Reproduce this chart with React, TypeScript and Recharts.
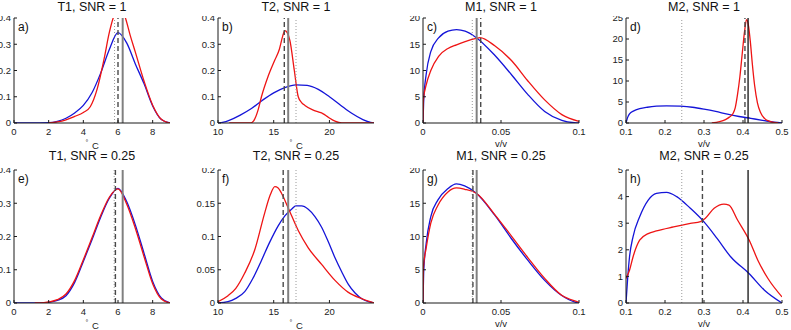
import React from 'react';
import { LineChart, Line, XAxis, YAxis, ReferenceLine } from 'recharts';

// a) T1, SNR = 1
const aBlueX = [0, 1, 2, 2.5, 3, 3.5, 4, 4.5, 5, 5.5, 6, 6.5, 7, 7.5, 8, 8.5, 9];
const aBlueY = [0, 0, 0.001, 0.006, 0.018, 0.038, 0.067, 0.115, 0.19, 0.28, 0.344, 0.305, 0.225, 0.15, 0.065, 0.013, 0];
const aRedX = [2, 2.5, 3, 3.5, 4, 4.4, 4.8, 5.2, 5.5, 5.75, 6.05, 6.4, 6.7, 7, 7.5, 8, 8.5, 8.8, 9];
const aRedY = [0, 0.004, 0.012, 0.025, 0.04, 0.062, 0.13, 0.245, 0.345, 0.405, 0.435, 0.405, 0.335, 0.27, 0.16, 0.068, 0.014, 0.003, 0];

// b) T2, SNR = 1
const bBlueX = [10, 10.5, 11, 12, 13, 14, 15, 16, 17, 18, 19, 20, 21, 22, 23, 23.7, 24];
const bBlueY = [0, 0.003, 0.01, 0.03, 0.055, 0.087, 0.115, 0.135, 0.145, 0.143, 0.128, 0.1, 0.068, 0.037, 0.013, 0.002, 0];
const bRedX = [11, 12.9, 13.2, 13.6, 13.9, 14.5, 15.1, 15.5, 15.8, 16.0, 16.2, 16.45, 16.85, 17.2, 17.5, 17.8, 18.5, 19.0, 19.4, 19.9, 20.5, 21.1, 24];
const bRedY = [0, 0, 0.008, 0.05, 0.1, 0.178, 0.24, 0.28, 0.33, 0.352, 0.345, 0.315, 0.2, 0.1, 0.078, 0.067, 0.05, 0.042, 0.036, 0.022, 0.007, 0, 0];

// c) M1, SNR = 1
const cBlueX = [0, 0.0005, 0.002, 0.005, 0.01, 0.016, 0.0215, 0.027, 0.034, 0.046, 0.057, 0.067, 0.078, 0.089, 0.097, 0.1];
const cBlueY = [0, 4.5, 9.2, 13.6, 16.2, 17.5, 17.8, 17.5, 16.3, 12.9, 9.1, 5.5, 2.2, 0.5, 0.05, 0];
const cRedX = [0, 0.0003, 0.002, 0.005, 0.01, 0.016, 0.0215, 0.027, 0.034, 0.0365, 0.046, 0.057, 0.067, 0.078, 0.089, 0.1];
const cRedY = [0, 4.6, 7.2, 10, 12.7, 14.2, 14.9, 15.5, 16.1, 16.25, 14.7, 11.8, 8.1, 4.4, 1.6, 0.3];

// d) M2, SNR = 1
const dBlueX = [0.1, 0.1045, 0.109, 0.12, 0.135, 0.155, 0.178, 0.204, 0.239, 0.27, 0.3, 0.33, 0.36, 0.39, 0.42, 0.45, 0.48, 0.5];
const dBlueY = [0, 1.4, 2.2, 2.9, 3.4, 3.75, 4.0, 4.1, 4.0, 3.75, 3.3, 2.75, 2.1, 1.55, 1.1, 0.65, 0.18, 0];
const dRedX = [0.32, 0.34, 0.355, 0.365, 0.374, 0.38, 0.386, 0.392, 0.398, 0.404, 0.409, 0.414, 0.419, 0.424, 0.43, 0.437, 0.445, 0.455, 0.47, 0.49];
const dRedY = [0, 0.3, 0.8, 1.4, 2.2, 3.6, 6.8, 11, 16.5, 21.8, 24.6, 23.2, 19.2, 14, 8.8, 4.8, 2.5, 1.1, 0.35, 0];

// e) T1, SNR = 0.25
const eBlueX = [0, 1, 1.5, 2, 2.5, 3, 3.5, 4, 4.5, 5, 5.5, 6, 6.5, 7, 7.5, 8, 8.5, 9];
const eBlueY = [0, 0, 0, 0.002, 0.008, 0.022, 0.062, 0.125, 0.19, 0.258, 0.315, 0.345, 0.305, 0.235, 0.15, 0.065, 0.015, 0];
const eRedX = [1.2, 1.5, 2, 2.5, 3, 3.5, 4, 4.5, 5, 5.5, 6, 6.5, 7, 7.5, 8, 8.5, 9];
const eRedY = [0, 0, 0.003, 0.01, 0.027, 0.068, 0.13, 0.196, 0.263, 0.318, 0.343, 0.298, 0.225, 0.14, 0.058, 0.012, 0];

// f) T2, SNR = 0.25
const fBlueX = [10, 10.9, 11.6, 12.4, 13.1, 13.9, 14.6, 15.4, 16.0, 16.6, 17.0, 17.5, 18.1, 18.7, 19.3, 19.9, 20.5, 21.1, 21.7, 22.3, 22.9, 23.5, 24];
const fBlueY = [0, 0.002, 0.007, 0.017, 0.036, 0.064, 0.09, 0.116, 0.131, 0.141, 0.146, 0.146, 0.141, 0.13, 0.114, 0.092, 0.068, 0.047, 0.028, 0.015, 0.0065, 0.002, 0];
const fRedX = [10, 10.9, 11.6, 12.4, 13.3, 14.2, 14.7, 15.1, 15.4, 15.7, 16.3, 17.2, 18.1, 19.3, 20.5, 21.7, 22.9, 24];
const fRedY = [0.002, 0.011, 0.022, 0.045, 0.08, 0.136, 0.163, 0.175, 0.173, 0.165, 0.143, 0.109, 0.083, 0.058, 0.034, 0.016, 0.0065, 0];

// g) M1, SNR = 0.25
const gBlueX = [0, 0.0005, 0.002, 0.005, 0.0096, 0.016, 0.0214, 0.0267, 0.0342, 0.046, 0.0566, 0.0673, 0.078, 0.0887, 0.0994, 0.1];
const gBlueY = [0, 4.9, 8.9, 13, 15.5, 17.2, 17.9, 17.6, 16.5, 13.2, 9.7, 6.4, 3.4, 1.16, 0.02, 0];
const gRedX = [0, 0.0003, 0.002, 0.005, 0.0096, 0.016, 0.0214, 0.0267, 0.0342, 0.046, 0.0566, 0.0673, 0.078, 0.0887, 0.0994, 0.1];
const gRedY = [0, 5.4, 8.2, 12, 14.7, 16.7, 17.3, 17.1, 16.5, 13.3, 10.1, 6.8, 3.7, 1.2, 0.15, 0.1];

// h) M2, SNR = 0.25
const hBlueX = [0.1, 0.1045, 0.109, 0.118, 0.135, 0.157, 0.178, 0.204, 0.23, 0.265, 0.3, 0.334, 0.369, 0.416, 0.455, 0.5];
const hBlueY = [0, 0.98, 1.73, 2.49, 3.24, 3.87, 4.12, 4.16, 4.0, 3.56, 3.05, 2.42, 1.73, 1.1, 0.48, 0];
const hRedX = [0.1, 0.109, 0.118, 0.135, 0.157, 0.178, 0.222, 0.265, 0.291, 0.303, 0.326, 0.351, 0.364, 0.386, 0.416, 0.438, 0.464, 0.5];
const hRedY = [0.92, 1.23, 1.73, 2.36, 2.61, 2.71, 2.86, 2.99, 3.06, 3.18, 3.56, 3.72, 3.68, 3.12, 2.36, 1.61, 0.92, 0.23];

// vertical markers per panel a..h
const trueVals = [6.27, 16.3, 0.0344, 0.413, 6.27, 16.3, 0.0344, 0.413];
const estVals = [6.0, 15.95, 0.037, 0.405, 5.85, 15.85, 0.032, 0.296];
const priorVals = [5.8, 17.0, 0.0316, 0.243, 5.78, 17.0, 0.0316, 0.243];

const titles = ['T1, SNR = 1', 'T2, SNR = 1', 'M1, SNR = 1', 'M2, SNR = 1', 'T1, SNR = 0.25', 'T2, SNR = 0.25', 'M1, SNR = 0.25', 'M2, SNR = 0.25'];
const letters = ['a)', 'b)', 'c)', 'd)', 'e)', 'f)', 'g)', 'h)'];

const t1Ticks = [0, 2, 4, 6, 8];
const t2Ticks = [10, 15, 20];
const m1Ticks = [0, 0.05, 0.1];
const m2Ticks = [0.1, 0.2, 0.3, 0.4, 0.5];
const dens04 = [0, 0.1, 0.2, 0.3, 0.4];
const dens02 = [0, 0.05, 0.1, 0.15, 0.2];
const dens20 = [0, 5, 10, 15, 20];
const dens25 = [0, 5, 10, 15, 20, 25];
const dens5 = [0, 1, 2, 3, 4, 5];

const pts = (xs: number[], ys: number[]) => xs.map((x, i) => ({ x, y: ys[i] }));

const COLS = [14, 218, 423, 626];
const ROWS = [{ top: 18, h: 105 }, { top: 170, h: 133 }];
const PW = 156;
const PAD_L = 30;
const PAD_R = 12;
const BLUE = '#1414d8';
const RED = '#ee1414';
const FRAME = '#1a1a1a';
const TICK_FONT = 9.5;

const colAxes = [
  { dom: [0, 9], ticks: t1Ticks, unit: 'C' },
  { dom: [10, 24], ticks: t2Ticks, unit: 'C' },
  { dom: [0, 0.1], ticks: m1Ticks, unit: 'v/v' },
  { dom: [0.1, 0.5], ticks: m2Ticks, unit: 'v/v' },
];

const panels = [
  { yDom: [0, 0.4], yTicks: dens04, blue: pts(aBlueX, aBlueY), red: pts(aRedX, aRedY) },
  { yDom: [0, 0.4], yTicks: dens04, blue: pts(bBlueX, bBlueY), red: pts(bRedX, bRedY) },
  { yDom: [0, 20], yTicks: dens20, blue: pts(cBlueX, cBlueY), red: pts(cRedX, cRedY) },
  { yDom: [0, 25], yTicks: dens25, blue: pts(dBlueX, dBlueY), red: pts(dRedX, dRedY) },
  { yDom: [0, 0.4], yTicks: dens04, blue: pts(eBlueX, eBlueY), red: pts(eRedX, eRedY) },
  { yDom: [0, 0.2], yTicks: dens02, blue: pts(fBlueX, fBlueY), red: pts(fRedX, fRedY) },
  { yDom: [0, 20], yTicks: dens20, blue: pts(gBlueX, gBlueY), red: pts(gRedX, gRedY) },
  { yDom: [0, 5], yTicks: dens5, blue: pts(hBlueX, hBlueY), red: pts(hRedX, hRedY) },
];

const abs = (left: number, top: number, extra: React.CSSProperties = {}): React.CSSProperties => ({
  position: 'absolute', left, top, whiteSpace: 'nowrap', lineHeight: 1, ...extra,
});

function Panel({ i }: { i: number }) {
  const col = i % 4;
  const row = Math.floor(i / 4);
  const p = panels[i];
  const ax = colAxes[col];
  const left = COLS[col];
  const { top, h } = ROWS[row];
  const cx = left + PW / 2;
  const bottom = top + h;
  const darkTrue = col === 3;
  const tickStyle = { fontSize: TICK_FONT, fill: '#222' };

  return (
    <>
      <div style={abs(cx, row ? 156 : 6.5, { transform: 'translate(-50%,-50%)', fontSize: 12.5, color: '#111' })}>{titles[i]}</div>
      <div style={abs(left + 4, top + 9, { transform: 'translateY(-50%)', fontSize: 12, color: '#111' })}>{letters[i]}</div>
      {ax.unit === 'C' ? (
        <>
          <div style={abs(cx - 5, bottom + 18.5, { transform: 'translate(-50%,-50%)', fontSize: 7, color: '#222' })}>°</div>
          <div style={abs(cx + 3.5, bottom + 22.7, { transform: 'translate(-50%,-50%)', fontSize: 9.5, color: '#222' })}>C</div>
        </>
      ) : (
        <div style={abs(cx, bottom + 20.8, { transform: 'translate(-50%,-50%)', fontSize: 9.5, color: '#222' })}>v/v</div>
      )}
      <div style={{ position: 'absolute', left: left - PAD_L, top: top - 2, fontSize: TICK_FONT }}>
        <LineChart width={PW + PAD_L + PAD_R} height={h + 22} margin={{ top: 2, right: PAD_R, bottom: 0, left: 0 }}
          style={{ overflow: 'visible' }}>
          <XAxis xAxisId="b" type="number" dataKey="x" domain={ax.dom} ticks={ax.ticks} allowDataOverflow interval={0}
            height={20} tickSize={-3} tickMargin={8} stroke={FRAME} fontSize={TICK_FONT} tick={tickStyle} />
          <XAxis xAxisId="t" orientation="top" type="number" dataKey="x" domain={ax.dom} ticks={ax.ticks} allowDataOverflow
            interval={0} height={0} tickSize={-3} tick={false} stroke={FRAME} />
          <YAxis yAxisId="l" type="number" domain={p.yDom} ticks={p.yTicks} allowDataOverflow interval={0}
            width={PAD_L} tickSize={-3} tickMargin={6} stroke={FRAME} fontSize={TICK_FONT} tick={tickStyle} />
          <YAxis yAxisId="r" orientation="right" type="number" domain={p.yDom} ticks={p.yTicks} allowDataOverflow
            interval={0} width={0} tickSize={-3} tick={false} stroke={FRAME} />
          <Line xAxisId="b" yAxisId="l" data={p.blue} dataKey="y" type="monotone" stroke={BLUE} strokeWidth={1.3}
            dot={false} isAnimationActive={false} />
          <Line xAxisId="b" yAxisId="l" data={p.red} dataKey="y" type="monotone" stroke={RED} strokeWidth={1.3}
            dot={false} isAnimationActive={false} />
          <ReferenceLine xAxisId="b" yAxisId="l" x={priorVals[i]} stroke="#9a9a9a" strokeWidth={1} strokeDasharray="1 2" />
          <ReferenceLine xAxisId="b" yAxisId="l" x={estVals[i]} stroke="#4a4a4a" strokeWidth={1.4} strokeDasharray="5 3" />
          <ReferenceLine xAxisId="b" yAxisId="l" x={trueVals[i]} stroke={darkTrue ? '#111' : '#808080'}
            strokeWidth={darkTrue ? 1.3 : 2} />
        </LineChart>
      </div>
    </>
  );
}

export default function App() {
  return (
    <div style={{ position: 'absolute', left: 0, top: 0, width: 791, height: 330, overflow: 'hidden', background: '#fff',
      fontFamily: '"Liberation Sans", Arial, Helvetica, sans-serif' }}>
      {panels.map((_, i) => <Panel key={i} i={i} />)}
    </div>
  );
}
